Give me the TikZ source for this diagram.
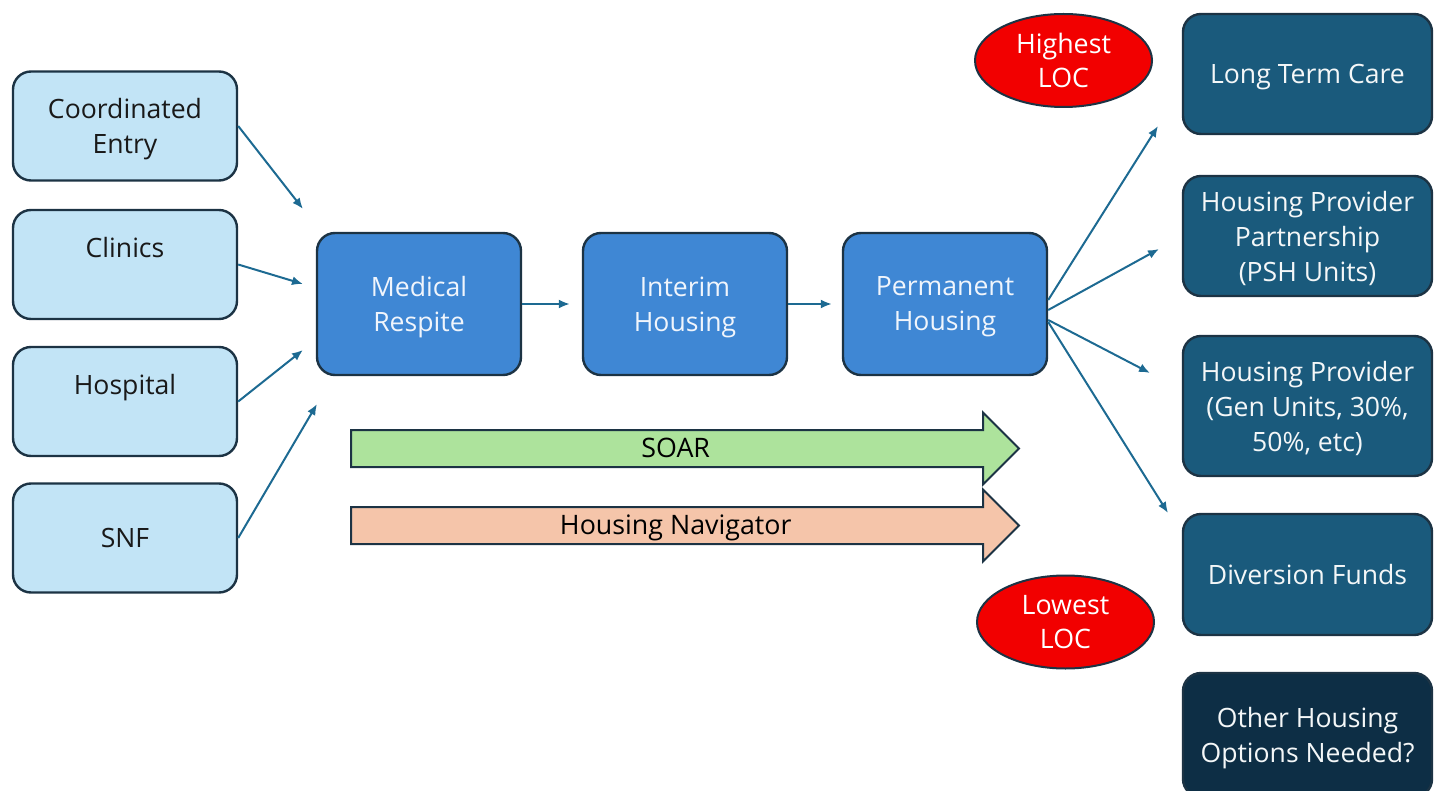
\documentclass[tikz,border=0pt]{standalone}
\usepackage{fontspec}
\setmainfont{Open Sans}
\usetikzlibrary{arrows.meta,shapes.geometric,shapes.arrows}

\definecolor{srcfill}{HTML}{C2E4F6}
\definecolor{stagefill}{HTML}{3F87D4}
\definecolor{optfill}{HTML}{1A5A7C}
\definecolor{otherfill}{HTML}{0D2E45}
\definecolor{edgeline}{HTML}{1C3344}
\definecolor{linkblue}{HTML}{1D6A92}
\definecolor{locred}{HTML}{F20000}
\definecolor{soargreen}{HTML}{ADE39C}
\definecolor{navpeach}{HTML}{F5C5AA}

\tikzset{
  box/.style={draw=edgeline, line width=1.2pt, rounded corners=9pt, align=center, inner sep=0pt,
    font=\fontsize{13.3}{17.5}\selectfont, text depth=0pt},
  source/.style={box, fill=srcfill, text=black!90, minimum width=112pt, minimum height=54.5pt},
  stage/.style={box, fill=stagefill, text=white!92!stagefill, minimum width=102pt, minimum height=71pt},
  option/.style={box, fill=optfill, text=white!95!optfill, minimum width=124.5pt, minimum height=60pt},
  loc/.style={ellipse, draw=edgeline, line width=1pt, fill=locred, text=white, minimum width=88.5pt,
    minimum height=46.5pt, inner sep=0pt, align=center, font=\fontsize{13.4}{17}\selectfont},
  band/.style={single arrow, draw=edgeline, line width=1pt, single arrow head extend=8.75pt,
    minimum height=334pt, inner xsep=0pt, inner ysep=3.25pt, text height=10pt, text depth=1pt,
    anchor=tail, font=\fontsize{13.4}{15}\selectfont},
  link/.style={draw=linkblue, line width=1pt, -{Latex[length=5.5pt,width=4.5pt]}}
}

\begin{document}
\begin{tikzpicture}[x=0.5pt, y=-0.5pt]
  \useasboundingbox (0,0) rectangle (1434,791);
  \clip (0,0) rectangle (1434,791);

  % where clients come from
  \node[source] (ce) at (125,126) {Coordinated\\Entry};
  \node[source] (cl) at (125,264.5) {Clinics\\~};
  \node[source] (hs) at (125,401.5) {Hospital\\~};
  \node[source] (snf) at (125,538) {SNF};

  % the path through housing
  \node[stage] (mr) at (419,304) {Medical\\Respite};
  \node[stage] (ih) at (685,304) {Interim\\Housing};
  \node[stage] (ph) at (945,304) {Permanent\\Housing};

  % services along the way
  \node[band, fill=soargreen] (soar) at (350,448.5) {SOAR};
  \node[band, fill=navpeach] (nav) at (350,525.5) {Housing Navigator};

  % level of care
  \node[loc] (hiloc) at (1063.5,60.5) {Highest\\LOC};
  \node[loc] (loloc) at (1065.5,622) {Lowest\\LOC};

  % housing options
  \node[option] (ltc) at (1307.5,74) {Long Term Care};
  \node[option] (hpp) at (1307.5,236) {Housing Provider\\Partnership\\(PSH Units)};
  \node[option, minimum height=70pt] (hpg) at (1307.5,406) {Housing Provider\\(Gen Units, 30\%,\\50\%, etc)};
  \node[option, minimum height=60.5pt] (div) at (1307.5,574.5) {Diversion Funds};
  \node[option, fill=otherfill, minimum height=62pt] (oth) at (1307.5,735) {Other Housing\\Options Needed?};

  % free arrow ends
  \coordinate (in1) at (303,209);
  \coordinate (in2) at (303,284);
  \coordinate (in3) at (303,350);
  \coordinate (in4) at (317,404);
  \coordinate (out1) at (1158,126);
  \coordinate (out2) at (1159,249);
  \coordinate (out3) at (1150,373);
  \coordinate (out4) at (1168,513);

  \draw[link] (ce.east) -- (in1);
  \draw[link] (cl.east) -- (in2);
  \draw[link] (hs.east) -- (in3);
  \draw[link] (snf.east) -- (in4);

  \draw[link, shorten >=6pt] (mr.east) -- (ih.west);
  \draw[link, shorten >=5pt] (ih.east) -- (ph.west);

  \draw[link] ([yshift=2pt]ph.east) -- (out1);
  \draw[link] ([yshift=-3pt]ph.east) -- (out2);
  \draw[link] ([yshift=-8pt]ph.east) -- (out3);
  \draw[link] ([yshift=-9pt]ph.east) -- (out4);
\end{tikzpicture}
\end{document}
